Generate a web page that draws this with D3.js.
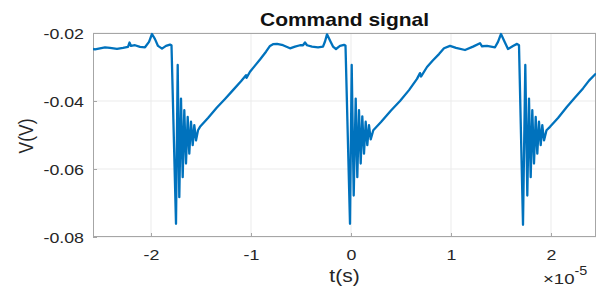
<!DOCTYPE html>
<html>
<head>
<meta charset="utf-8">
<script src="https://cdn.jsdelivr.net/npm/d3@7"></script>
<style>
  html, body { margin: 0; padding: 0; background: #fff; }
  svg { display: block; font-family: "Liberation Sans", Arial, sans-serif; }
</style>
</head>
<body>
<svg id="chart" width="604" height="289"></svg>
<script>
// ---- data (time in units of 1e-5 s, voltage in V) ----
const timeValues = [
  -2.58, -2.56, -2.51, -2.46, -2.41, -2.34, -2.28, -2.23, -2.215, -2.20, -2.16, -2.11, -2.06, -2.02,
  -1.99, -1.96, -1.93, -1.89, -1.85, -1.81, -1.795,
  -1.75, -1.733, -1.717, -1.70, -1.683, -1.667, -1.65, -1.633, -1.617, -1.60, -1.583, -1.567, -1.55, -1.53,
  -1.51, -1.43, -1.343, -1.26, -1.18, -1.10, -1.05, -1.045, -1.01, -0.96, -0.91, -0.85, -0.81, -0.78,
  -0.74, -0.68, -0.61, -0.56, -0.51, -0.48, -0.46, -0.44, -0.39, -0.33, -0.28, -0.26, -0.24, -0.21,
  -0.18, -0.15, -0.11, -0.07, -0.055,
  -0.01, 0.007, 0.027, 0.047, 0.063, 0.08, 0.097, 0.113, 0.13, 0.147, 0.163, 0.18, 0.197, 0.223,
  0.30, 0.40, 0.49, 0.58, 0.66, 0.69, 0.70, 0.76, 0.82, 0.88, 0.93, 0.99,
  1.05, 1.14, 1.22, 1.29, 1.31, 1.36, 1.44, 1.47, 1.50, 1.53, 1.57, 1.62, 1.66, 1.68,
  1.72, 1.743, 1.763, 1.78, 1.797, 1.813, 1.83, 1.847, 1.863, 1.88, 1.897, 1.913, 1.93, 1.955,
  1.99, 2.07, 2.16, 2.24, 2.32, 2.38, 2.45
];
const voltageValues = [
  -0.0247, -0.0248, -0.0245, -0.0242, -0.0244, -0.0247, -0.0244, -0.0241, -0.0228, -0.0238, -0.0236, -0.0241, -0.0242, -0.0226,
  -0.0203, -0.0218, -0.0238, -0.0246, -0.0238, -0.0234, -0.0236,
  -0.0761, -0.0294, -0.0683, -0.0393, -0.0624, -0.0427, -0.0584, -0.0447, -0.0555, -0.0461, -0.0530, -0.0471, -0.0516, -0.0486,
  -0.0476, -0.0450, -0.0420, -0.0394, -0.0368, -0.0342, -0.0324, -0.0332, -0.0314, -0.0296, -0.0278, -0.0255, -0.0238, -0.0233,
  -0.0232, -0.0236, -0.0245, -0.0240, -0.0236, -0.0236, -0.0228, -0.0236, -0.0240, -0.0242, -0.0240, -0.0225, -0.0204, -0.0222,
  -0.0240, -0.0247, -0.0238, -0.0235, -0.0237,
  -0.0761, -0.0294, -0.0678, -0.0393, -0.0624, -0.0427, -0.0584, -0.0445, -0.0555, -0.0461, -0.0530, -0.0471, -0.0513, -0.0486,
  -0.0462, -0.0428, -0.0400, -0.0368, -0.0335, -0.0318, -0.0328, -0.0300, -0.0280, -0.0262, -0.0245, -0.0238,
  -0.0244, -0.0250, -0.0240, -0.0230, -0.0239, -0.0238, -0.0242, -0.0226, -0.0203, -0.0222, -0.0247, -0.0238, -0.0232, -0.0236,
  -0.0764, -0.0294, -0.0678, -0.0393, -0.0624, -0.0427, -0.0584, -0.0447, -0.0555, -0.0461, -0.0530, -0.0471, -0.0516, -0.0486,
  -0.0476, -0.0450, -0.0417, -0.0390, -0.0363, -0.0340, -0.0319
];
const xTicks = [-2, -1, 0, 1, 2];
const yTicks = [-0.08, -0.06, -0.04, -0.02];
const xDomain = [-2.58, 2.45];
const yDomain = [-0.08, -0.02];
const titleText = "Command signal";
const xLabelText = "t(s)";
const yLabelText = "V(V)";

// ---- layout ----
const pLeft = 93, pRight = 596, pTop = 33, pBottom = 237;
const stretch = 1.2;
const tickStretch = 1.27;
const svg = d3.select("#chart");
const x = d3.scaleLinear().domain(xDomain).range([pLeft, pRight]);
const y = d3.scaleLinear().domain(yDomain).range([pBottom, pTop]);
const fmtY = d => d.toFixed(2);
const fmtX = d => String(d);

// grid
svg.append("g").selectAll("line").data(xTicks).join("line")
  .attr("x1", d => x(d)).attr("x2", d => x(d)).attr("y1", pTop).attr("y2", pBottom)
  .attr("stroke", "#ebebeb").attr("stroke-width", 1);
svg.append("g").selectAll("line").data(yTicks).join("line")
  .attr("x1", pLeft).attr("x2", pRight).attr("y1", d => y(d)).attr("y2", d => y(d))
  .attr("stroke", "#ebebeb").attr("stroke-width", 1);

// axes
const gx = svg.append("g").attr("transform", `translate(0,${pBottom})`)
  .call(d3.axisBottom(x).tickValues(xTicks).tickFormat(fmtX).tickSize(-4).tickSizeOuter(0));
const gy = svg.append("g").attr("transform", `translate(${pLeft},0)`)
  .call(d3.axisLeft(y).tickValues(yTicks).tickFormat(fmtY).tickSize(-4).tickSizeOuter(0));
[gx, gy].forEach(g => {
  g.select(".domain").remove();
  g.selectAll(".tick line").attr("stroke", "#a6a6a6");
  g.selectAll("text").attr("fill", "#262626").attr("font-size", 14)
    .attr("font-family", "Liberation Sans, Arial, sans-serif");
});
gx.selectAll("text").attr("y", 23).attr("dy", 0).attr("transform", `scale(${tickStretch},1)`);
gy.selectAll("text").attr("x", -9 / tickStretch).attr("dy", "0.36em").attr("transform", `scale(${tickStretch},1)`);

// box
svg.append("rect").attr("x", pLeft + 0.5).attr("y", pTop + 0.5)
  .attr("width", pRight - pLeft - 1).attr("height", pBottom - pTop - 1)
  .attr("fill", "none").attr("stroke", "#a6a6a6").attr("stroke-width", 1);

// line
const pts = timeValues.map((t, i) => [t, voltageValues[i]]);
svg.append("defs").append("clipPath").attr("id", "clip")
  .append("rect").attr("x", pLeft).attr("y", pTop - 2).attr("width", pRight - pLeft).attr("height", pBottom - pTop + 4);
svg.append("path").datum(pts)
  .attr("clip-path", "url(#clip)")
  .attr("d", d3.line().x(d => x(d[0])).y(d => y(d[1])))
  .attr("fill", "none").attr("stroke", "#0072BD").attr("stroke-width", 2.3)
  .attr("stroke-linejoin", "round");

// title
svg.append("text").attr("transform", `translate(${(pLeft + pRight) / 2},26) scale(${stretch},1)`)
  .attr("text-anchor", "middle").attr("font-weight", "bold").attr("font-size", 17.5)
  .attr("fill", "#111").text(titleText);

// x label
svg.append("text").attr("transform", `translate(${(pLeft + pRight) / 2},282) scale(${stretch},1)`)
  .attr("text-anchor", "middle").attr("font-size", 17.5).attr("fill", "#262626").text(xLabelText);

// y label
svg.append("text").attr("transform", `translate(33,136) rotate(-90) scale(1,${stretch})`)
  .attr("text-anchor", "middle").attr("font-size", 17.5).attr("fill", "#262626").text(yLabelText);

// exponent
const ex = svg.append("text").attr("transform", `translate(543,284) scale(${stretch},1)`)
  .attr("font-size", 15.5).attr("fill", "#262626");
ex.append("tspan").text("\u00d710");
ex.append("tspan").attr("dy", -9).attr("font-size", 12).text("-5");
</script>
</body>
</html>
